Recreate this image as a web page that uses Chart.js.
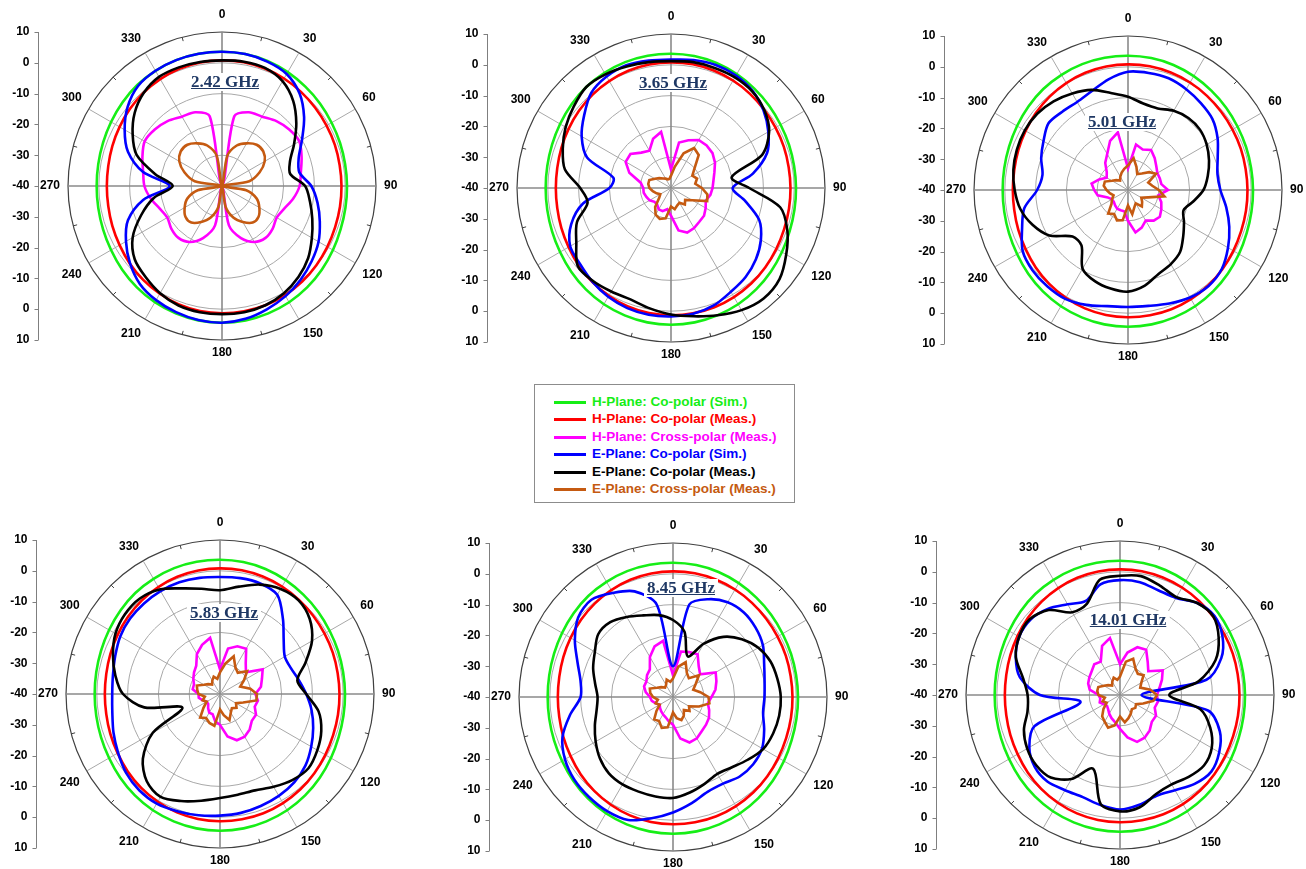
<!DOCTYPE html>
<html>
<head>
<meta charset="utf-8">
<script src="https://cdn.jsdelivr.net/npm/chart.js@4.4.1/dist/chart.umd.min.js"></script>
<style>
  body { margin: 0; background: #fff; }
  #page { position: relative; width: 1306px; height: 869px; overflow: hidden; background: #fff; }
  .plot { position: absolute; width: 400px; height: 368px; }
  .freq {
    position: absolute; transform: translate(-50%, -50%);
    font: bold 17px "Liberation Serif", "Times New Roman", serif; line-height: 18px;
    color: #1f3864; text-decoration: underline; background: #fff; padding: 0 3px; white-space: nowrap;
  }
  #legend {
    position: absolute; left: 534px; top: 384px; width: 259px; height: 117px;
    border: 1px solid #8c8c8c; background: #fff;
  }
  #legend .row { position: absolute; left: 0; height: 16px; }
  #legend .swatch { position: absolute; left: 19px; top: 7px; width: 32px; height: 3px; }
  #legend .name { position: absolute; left: 57px; top: 0; font: bold 13.5px Arial, "Liberation Sans", sans-serif; line-height: 16px; white-space: nowrap; }
</style>
</head>
<body>
<div id="page">
  <div class="plot" style="left:1px;top:0px"><canvas id="p242" width="400" height="368"></canvas></div>
  <div class="plot" style="left:450px;top:2px"><canvas id="p365" width="400" height="368"></canvas></div>
  <div class="plot" style="left:907px;top:4px"><canvas id="p501" width="400" height="368"></canvas></div>
  <div class="plot" style="left:-1px;top:508px"><canvas id="p583" width="400" height="368"></canvas></div>
  <div class="plot" style="left:452px;top:511px"><canvas id="p845" width="400" height="368"></canvas></div>
  <div class="plot" style="left:899px;top:509px"><canvas id="p1401" width="400" height="368"></canvas></div>

  <div class="freq" style="left:225px;top:82px">2.42 GHz</div>
  <div class="freq" style="left:673px;top:83px">3.65 GHz</div>
  <div class="freq" style="left:1122px;top:122px">5.01 GHz</div>
  <div class="freq" style="left:224px;top:613px">5.83 GHz</div>
  <div class="freq" style="left:681px;top:588px">8.45 GHz</div>
  <div class="freq" style="left:1128px;top:620px">14.01 GHz</div>

  <div id="legend"></div>
</div>

<script>
// angles (deg, clockwise from top) and radial scale in dB
const angleLabels = ['0', '10', '20', '30', '40', '50', '60', '70', '80', '90', '100', '110',
  '120', '130', '140', '150', '160', '170', '180', '190', '200', '210', '220', '230',
  '240', '250', '260', '270', '280', '290', '300', '310', '320', '330', '340', '350'];
const radialTicks = [10, 0, -10, -20, -30, -40];
const minorTickAngles = [15, 45, 75, 105, 135, 165, 195, 225, 255, 285, 315, 345];

const seriesNames = ['H-Plane: Co-polar (Sim.)', 'H-Plane: Co-polar (Meas.)', 'H-Plane: Cross-polar (Meas.)',
  'E-Plane: Co-polar (Sim.)', 'E-Plane: Co-polar (Meas.)', 'E-Plane: Cross-polar (Meas.)'];
const seriesColors = ['#16ee16', '#ff0000', '#ff00ff', '#0000ff', '#000000', '#c55a11'];

// H-plane co-polar, the same in every panel
const hCoSim = [3.6, 3.5, 3.2, 2.7, 2.1, 1.6, 1.1, 0.8, 0.6, 0.6, 0.7, 1.0, 1.6, 2.3, 3.0, 3.6, 4.0, 4.3,
  4.4, 4.3, 4.0, 3.6, 3.0, 2.3, 1.6, 1.1, 0.8, 0.7, 0.8, 1.1, 1.6, 2.2, 2.8, 3.2, 3.5, 3.6];
const hCoMeas = [0.8, 0.8, 0.6, 0.3, -0.1, -0.5, -0.8, -1.0, -1.2, -1.2, -1.1, -0.9, -0.5, 0.0, 0.5, 0.9, 1.2, 1.3,
  1.3, 1.2, 0.9, 0.4, -0.2, -0.9, -1.6, -2.1, -2.5, -2.6, -2.5, -2.1, -1.6, -1.0, -0.4, 0.1, 0.5, 0.7];

//2.42 GHz ---------------------------------------------------------------
const f242_hCross = [-40, -17, -14.5, -14, -12.5, -11.5, -11, -12.5, -14, -14.8, -16.5, -18.5, -19.5, -18.5, -18, -19, -22, -27,
  -40, -27, -22, -19, -18, -18.5, -19.5, -18.5, -16.5, -14.8, -14, -12.5, -11, -11.5, -12.5, -14, -14.5, -17];
const f242_eCoSim = [3.6, 3.5, 3.0, 2.0, -0.8, -5.2, -10, -13.5, -14.5, -11, -8.5, -6.2, -3.8, -2, -0.3, 1.3, 2.6, 3.8,
  4.4, 4.2, 3.6, 2.8, 1.5, -1, -4, -7.5, -14, -23, -14, -7.5, -3.5, 0, 2.4, 3.2, 3.5, 3.6];
const f242_eCoMeas = [0.8, 1.0, 0.8, -0.7, -4, -8.5, -13, -16.5, -17.5, -13, -11, -8.8, -6.3, -3.5, -1.4, 0.2, 1.2, 1.6,
  1.6, 1.6, 1.3, 0.2, -1.4, -3, -6.5, -12, -17.5, -24, -18, -10.5, -6.5, -3, -0.5, 0.9, 1.0, 0.9];
const f242_eCross = [-40, -30, -26, -24, -22.5, -22.5, -24, -27, -31, -40, -32, -28, -26, -24.5, -24.5, -26.5, -29, -33,
  -40, -33, -29, -26.5, -24.5, -24.5, -26, -28, -32, -40, -31, -27, -24, -22.5, -22.5, -24, -26, -30];

//3.65 GHz ---------------------------------------------------------------
const f365_hCross = [-34, -25, -23.5, -22, -22, -22.4, -23.5, -25, -26, -26.5, -27, -28, -27, -26, -25.7, -25, -24.6, -26,
  -31, -33, -32, -32, -33, -33, -32, -31.5, -31, -31, -30, -25.6, -23, -22.8, -25, -26, -23, -21.5];
const f365_eCoSim = [1.7, 2.2, 2.5, 2.2, 1.2, -0.8, -3.5, -6.8, -13, -20, -15.5, -9.5, -6.3, -4, -2.3, -1.1, 0.6, 1.5,
  1.7, 1.8, 1.5, 0.8, -0.3, -1.5, -2.2, -5.5, -11, -20, -21, -11, -6.5, -3.2, 0.3, 1.8, 2.4, 2.0];
const f365_eCoMeas = [1.2, 1.5, 1.5, 1.5, 1.0, -0.5, -3.2, -8.5, -20, -14.6, -4, 0.2, 3.2, 6, 6.8, 5.8, 4.0, 2.3,
  1.1, -0.3, -1.5, -1.2, -0.6, -0.5, -4.5, -7.5, -12.5, -10.5, -5, -2.6, -0.5, 1.2, 2.8, 2.6, 2.0, 1.5];
const f365_eCross = [-36, -33, -28, -25, -26, -30, -32, -31, -32, -30, -28, -27.5, -32, -34, -33, -34.5, -34, -33,
  -34, -30, -29.3, -30, -32, -35, -36, -35, -34, -33, -32.5, -32.5, -34, -35, -36, -36.5, -37, -37];

//5.01 GHz ---------------------------------------------------------------
const f501_hCross = [-33, -25, -26, -25, -26.5, -28, -29, -29, -29, -27, -30, -28.5, -27.5, -26.5, -27, -28.5, -27, -26,
  -30, -33, -33, -33, -33.5, -34, -34, -33, -30, -29, -28, -30, -32, -31, -28.5, -26.5, -23, -21];
const f501_eCoSim = [-1.6, -1.4, -1.4, -2.2, -3.2, -4.2, -6.4, -9, -10.5, -10, -7.6, -5, -2.5, -0.2, 0.7, 0.3, -0.8, -1.8,
  -2, -1.7, -0.3, 0.8, 0.8, 0.5, -0.5, -3.4, -5.8, -10.5, -11.8, -10, -8.3, -6.3, -6.8, -7, -5.8, -3.5];
const f501_eCoMeas = [-9.7, -11.5, -11.8, -10.3, -9.5, -9.5, -10.5, -12, -13.7, -15.5, -18.5, -20.8, -19, -16.6, -13.7, -12.2, -11, -8.5,
  -7, -7.5, -8.5, -10.5, -16.5, -16.5, -10.5, -7, -4.5, -3.2, -2.2, -1.6, -1.3, -1.5, -2.4, -3.8, -5.4, -8];
const f501_eCross = [-32, -29.5, -32, -34, -33, -31, -29.5, -33, -32, -30, -28, -33, -35, -34, -33, -35, -34, -32,
  -35, -30, -29.5, -31, -30, -33, -34, -35, -34, -33, -32, -32, -34, -35, -36, -35, -34, -33];

//5.83 GHz ---------------------------------------------------------------
const f583_hCross = [-32, -25, -23.5, -23, -27, -29, -24, -25.5, -26.5, -28.5, -27.5, -28, -26.5, -26.5, -25, -24, -24, -26,
  -30, -31, -33, -33, -34, -35, -35, -34, -33, -33, -31, -31, -30, -29, -28, -25, -23, -21.5];
const f583_eCoSim = [-2, -1.8, -1.8, -2.8, -8.2, -13, -15.7, -15.5, -14, -12, -9.8, -7.8, -5.8, -3.8, -2.5, -1.8, -1.3, -0.8,
  -0.5, 0, 0.5, 1.1, 0.8, -0.2, -1.8, -3.2, -4.5, -5, -4.7, -3.8, -2.6, -1.9, -1.6, -1.4, -1.4, -1.7];
const f583_eCoMeas = [-6.3, -4.6, -2.2, -0.6, -0.3, -2, -5.5, -10.5, -14.5, -12, -7.5, -5, -3.5, -2.5, -3.5, -5.2, -6.7, -6.8,
  -6.2, -4.8, -3, -1.4, -3, -7.3, -14.8, -27, -15, -8.5, -5.5, -3, -0.8, 0.3, 0.5, -0.8, -3.5, -5.3];
const f583_eCross = [-33, -30, -27, -30, -31, -28.5, -31, -33, -30, -28, -28, -32, -34, -33, -34, -33, -31, -33,
  -35, -29.5, -30, -31, -30, -33, -35, -34, -35, -33, -32.5, -32, -34, -35, -36, -35, -34, -35];

//8.45 GHz ---------------------------------------------------------------
const f845_hCross = [-33, -25, -24.5, -24, -27, -28.5, -24, -25, -26, -27.5, -28.5, -27.5, -26.5, -26, -25.5, -24.5, -24.3, -26.3,
  -31, -32, -33, -33.5, -34, -34.5, -35, -34, -33, -32.5, -31, -30, -30, -29, -28.3, -25, -22.5, -21.5];
const f845_eCoSim = [-30, -9.5, -6.2, -4.5, -4.2, -5, -6.3, -8.5, -9.8, -10.3, -10.3, -8.5, -6.6, -6, -6.3, -7.5, -7.2, -5,
  -2.5, 0, 2.5, 2.8, 2.4, 1.8, 0.5, -1.8, -6, -10, -9.5, -7, -3.2, 0.2, 1.2, -1, -3.5, -9.5];
const f845_eCoMeas = [-15, -18.5, -26, -20, -14.5, -10.8, -8, -6.3, -5.6, -5, -5, -5.4, -6.2, -8.3, -10.2, -11.2, -10, -8.5,
  -7.2, -7.2, -7.3, -7.2, -7.6, -9, -11, -13, -14.8, -15.5, -14.3, -12.4, -10.7, -8.3, -8.3, -10, -11.8, -13];
const f845_eCross = [-34, -30, -28, -31, -32, -29, -31.5, -33, -31, -28.5, -28, -31, -34, -33, -34.5, -33, -32, -33,
  -35, -30, -29.3, -31, -30.5, -33, -35, -34, -35, -33.5, -32.5, -32, -34, -35, -36, -35.5, -34, -35];

//14.01 GHz --------------------------------------------------------------
const f1401_hCross = [-30, -26, -23.5, -23, -26, -28, -24, -25.5, -27, -28, -27.5, -28, -26.5, -26.5, -25, -24, -23.8, -26,
  -29, -31, -32, -33, -34, -34.5, -34, -33, -33.5, -33, -30, -29, -28.5, -28, -27, -27.5, -23, -21.2];
const f1401_eCoSim = [-2.7, -2.8, -3.8, -3.6, -1, 0, -1.6, -5, -11.5, -33, -11, -5.5, -2.8, -1.3, -2.3, -4.3, -5.2, -3.8,
  -2.8, -3.7, -4.7, -4.3, -3.3, -3.8, -6, -10.5, -27, -14, -7, -4, -2.2, -2, -3.5, -6, -7.5, -3.5];
const f1401_eCoMeas = [-1.3, -0.8, -2.2, -3.3, -1, -0.4, -3, -7, -14, -24, -13.5, -8.8, -5.6, -4.4, -5.3, -6.5, -5.8, -3,
  -2.2, -4, -14.5, -8.5, -5, -4.5, -5.2, -6.8, -9.5, -10, -8, -4, -2.2, -1.7, -4, -9, -8.5, -2];
const f1401_eCross = [-34, -29, -27.5, -30, -31, -30, -32, -33, -30, -28, -29, -32, -34, -33.5, -34, -33, -32, -31,
  -33, -30, -28.7, -30, -31, -33, -35, -34, -35, -33, -32.5, -32.5, -34, -35, -36, -35, -34, -35];

// vertical dB axis at the left of every panel + small ticks on the outer ring
const leftAxis = {
  id: 'leftAxis',
  afterDraw(chart) {
    const r = chart.scales.r;
    const ctx = chart.ctx;
    const x = Math.round(r.xCenter - r.drawingArea - 30) + 0.5;
    const span = r.getDistanceFromCenterForValue(radialTicks[0]);

    ctx.save();
    ctx.strokeStyle = '#7f7f7f';
    ctx.lineWidth = 1;
    ctx.beginPath();
    ctx.moveTo(x, r.yCenter - span);
    ctx.lineTo(x, r.yCenter + span);
    ctx.stroke();

    ctx.font = 'bold 12px Arial, "Liberation Sans", sans-serif';
    ctx.fillStyle = '#000';
    ctx.textAlign = 'right';
    ctx.textBaseline = 'middle';
    radialTicks.forEach(v => {
      const d = r.getDistanceFromCenterForValue(v);
      const ys = d > 0 ? [r.yCenter - d, r.yCenter + d] : [r.yCenter];
      ys.forEach(y => {
        ctx.beginPath();
        ctx.moveTo(x - 4, Math.round(y) + 0.5);
        ctx.lineTo(x, Math.round(y) + 0.5);
        ctx.stroke();
        ctx.fillText(String(v), x - 9, y);
      });
    });

    ctx.strokeStyle = '#404040';
    minorTickAngles.forEach(a => {
      const t = a * Math.PI / 180;
      ctx.beginPath();
      ctx.moveTo(r.xCenter + (span - 4) * Math.sin(t), r.yCenter - (span - 4) * Math.cos(t));
      ctx.lineTo(r.xCenter + span * Math.sin(t), r.yCenter - span * Math.cos(t));
      ctx.stroke();
    });
    ctx.restore();
  }
};

function criaPolar(id, series, smoothCross) {
  const canvas = document.getElementById(id);

  return new Chart(canvas, {
    type: 'radar',
    data: {
      labels: angleLabels,
      datasets: series.map((valores, i) => ({
        label: seriesNames[i],
        data: valores,
        borderColor: seriesColors[i],
        backgroundColor: 'transparent',
        borderWidth: 2.6,
        pointRadius: 0,
        pointHitRadius: 0,
        fill: false,
        tension: (i === 2 || i === 5) && !smoothCross ? 0 : 0.3,
        order: series.length - i
      }))
    },
    options: {
      responsive: false,
      animation: false,
      devicePixelRatio: 1,
      events: [],
      layout: { padding: { left: 36 } },
      plugins: { legend: { display: false }, tooltip: { enabled: false } },
      scales: {
        r: {
          min: -40,
          max: 10,
          ticks: { display: false, stepSize: 10 },
          grid: {
            circular: true,
            color: ctx => ctx.tick && ctx.tick.value === 10 ? '#404040' : '#a8a8a8',
            lineWidth: ctx => ctx.tick && ctx.tick.value === 10 ? 1.2 : 1
          },
          angleLines: {
            color: ctx => ctx.index % 9 === 0 ? '#8a8a8a' : '#a8a8a8',
            lineWidth: ctx => ctx.index % 3 === 0 ? (ctx.index % 9 === 0 ? 1.6 : 1) : 0
          },
          pointLabels: {
            color: '#000',
            font: { family: 'Arial, "Liberation Sans", sans-serif', size: 12, weight: 'bold' },
            padding: ctx => ctx.index === 0 ? 10 : (ctx.index === 18 ? 6 : 8),
            callback: (label, index) => index % 3 === 0 ? label : ''
          }
        }
      }
    },
    plugins: [leftAxis]
  });
}

criaPolar('p242', [hCoSim, hCoMeas, f242_hCross, f242_eCoSim, f242_eCoMeas, f242_eCross], true);
criaPolar('p365', [hCoSim, hCoMeas, f365_hCross, f365_eCoSim, f365_eCoMeas, f365_eCross], false);
criaPolar('p501', [hCoSim, hCoMeas, f501_hCross, f501_eCoSim, f501_eCoMeas, f501_eCross], false);
criaPolar('p583', [hCoSim, hCoMeas, f583_hCross, f583_eCoSim, f583_eCoMeas, f583_eCross], false);
criaPolar('p845', [hCoSim, hCoMeas, f845_hCross, f845_eCoSim, f845_eCoMeas, f845_eCross], false);
criaPolar('p1401', [hCoSim, hCoMeas, f1401_hCross, f1401_eCoSim, f1401_eCoMeas, f1401_eCross], false);

// legend box -------------------------------------------------------------
const legenda = document.getElementById('legend');
seriesNames.forEach((nome, i) => {
  const row = document.createElement('div');
  row.className = 'row';
  row.style.top = (9 + i * 17.4) + 'px';
  row.innerHTML = '<span class="swatch" style="background:' + seriesColors[i] + '"></span>' +
    '<span class="name" style="color:' + seriesColors[i] + '">' + nome + '</span>';
  legenda.appendChild(row);
});
</script>
</body>
</html>
